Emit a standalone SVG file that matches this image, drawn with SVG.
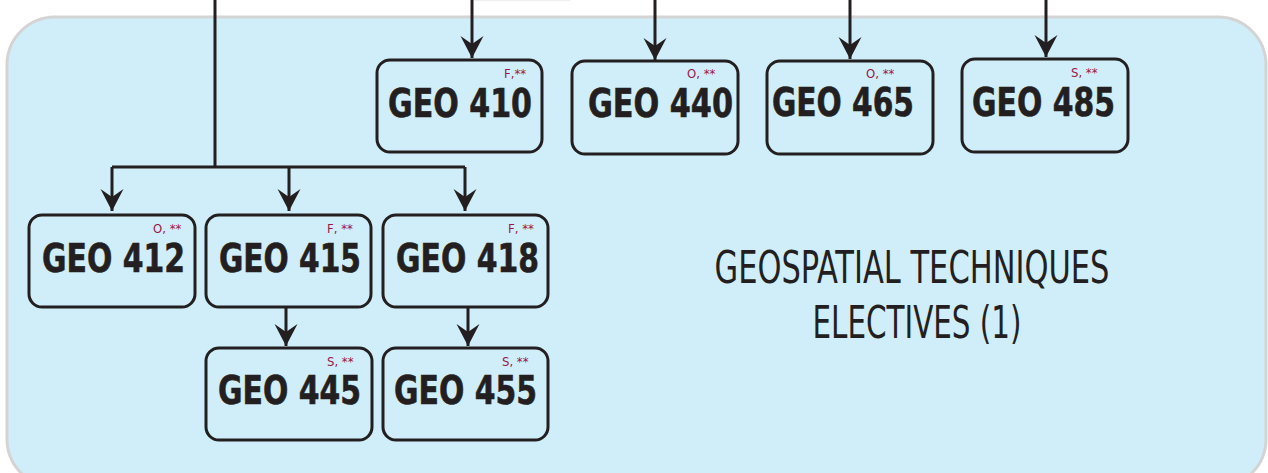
<svg xmlns="http://www.w3.org/2000/svg" width="1268" height="473" viewBox="0 0 1268 473">
<style>
.bg{fill:#d0eef9;stroke:#d4d4d4;stroke-width:3}
.box{fill:#d0eef9;stroke:#231f20;stroke-width:3}
.code{font-family:"DejaVu Sans Condensed","DejaVu Sans",sans-serif;font-stretch:condensed;font-weight:900;font-size:39px;fill:#231f20;stroke:#231f20;stroke-width:0.6}
.tag{font-family:"Liberation Sans Narrow","DejaVu Sans Condensed",sans-serif;font-size:13px;fill:#9b1446}
.title{font-family:"Liberation Sans Narrow","DejaVu Sans Condensed",sans-serif;font-size:44px;fill:#231f20;text-anchor:middle}
.ln{fill:none;stroke:#231f20;stroke-width:3}
</style>
<defs>
<marker id="arr" markerUnits="userSpaceOnUse" viewBox="-23 -12 24 24" markerWidth="24" markerHeight="24" refX="0" refY="0" orient="auto">
<path d="M0,0 L-22,-11.5 L-14,0 L-22,11.5 Z" fill="#231f20"/>
</marker>
</defs>
<rect class="bg" x="7" y="17" width="1259" height="470" rx="48"/>
<line x1="474" y1="0.5" x2="570" y2="0.5" stroke="#f0f0f0" stroke-width="1.5"/>
<g id="connectors">
<path class="ln" d="M215,0 V167"/>
<path class="ln" d="M112,167 H465"/>
<path class="ln" d="M112,167 V211" marker-end="url(#arr)"/>
<path class="ln" d="M289,167 V211" marker-end="url(#arr)"/>
<path class="ln" d="M465,167 V211" marker-end="url(#arr)"/>
<path class="ln" d="M472,0 V58" marker-end="url(#arr)"/>
<path class="ln" d="M655,0 V60" marker-end="url(#arr)"/>
<path class="ln" d="M850,0 V59" marker-end="url(#arr)"/>
<path class="ln" d="M1046,0 V57" marker-end="url(#arr)"/>
<path class="ln" d="M286,307 V346" marker-end="url(#arr)"/>
<path class="ln" d="M468,307 V346" marker-end="url(#arr)"/>
</g>
<g id="geo410"><rect class="box" x="377" y="60" width="165" height="92" rx="13"/><text class="tag" x="504" y="78">F,**</text><text class="code" x="388" y="117" textLength="144" lengthAdjust="spacingAndGlyphs">GEO 410</text></g>
<g id="geo440"><rect class="box" x="572" y="61" width="166" height="93" rx="13"/><text class="tag" x="687" y="78">O, **</text><text class="code" x="588" y="117" textLength="145" lengthAdjust="spacingAndGlyphs">GEO 440</text></g>
<g id="geo465"><rect class="box" x="767" y="61" width="166" height="93" rx="13"/><text class="tag" x="866" y="78">O, **</text><text class="code" x="772" y="116" textLength="142" lengthAdjust="spacingAndGlyphs">GEO 465</text></g>
<g id="geo485"><rect class="box" x="962" y="59" width="166" height="93" rx="13"/><text class="tag" x="1071" y="77">S, **</text><text class="code" x="972" y="116" textLength="143" lengthAdjust="spacingAndGlyphs">GEO 485</text></g>
<g id="geo412"><rect class="box" x="29" y="215" width="166" height="92" rx="13"/><text class="tag" x="153" y="233">O, **</text><text class="code" x="42" y="272" textLength="143" lengthAdjust="spacingAndGlyphs">GEO 412</text></g>
<g id="geo415"><rect class="box" x="206" y="215" width="165" height="92" rx="13"/><text class="tag" x="327" y="233">F, **</text><text class="code" x="219" y="272" textLength="142" lengthAdjust="spacingAndGlyphs">GEO 415</text></g>
<g id="geo418"><rect class="box" x="383" y="215" width="165" height="92" rx="13"/><text class="tag" x="508" y="233">F, **</text><text class="code" x="396" y="272" textLength="143" lengthAdjust="spacingAndGlyphs">GEO 418</text></g>
<g id="geo445"><rect class="box" x="206" y="348" width="166" height="92" rx="13"/><text class="tag" x="327" y="366">S, **</text><text class="code" x="218" y="404" textLength="143" lengthAdjust="spacingAndGlyphs">GEO 445</text></g>
<g id="geo455"><rect class="box" x="383" y="348" width="165" height="92" rx="13"/><text class="tag" x="502" y="366">S, **</text><text class="code" x="394" y="404" textLength="143" lengthAdjust="spacingAndGlyphs">GEO 455</text></g>
<g id="title"><text class="title" x="912" y="283" textLength="395" lengthAdjust="spacingAndGlyphs">GEOSPATIAL TECHNIQUES</text><text class="title" x="917" y="338" textLength="209" lengthAdjust="spacingAndGlyphs">ELECTIVES (1)</text></g>
</svg>
